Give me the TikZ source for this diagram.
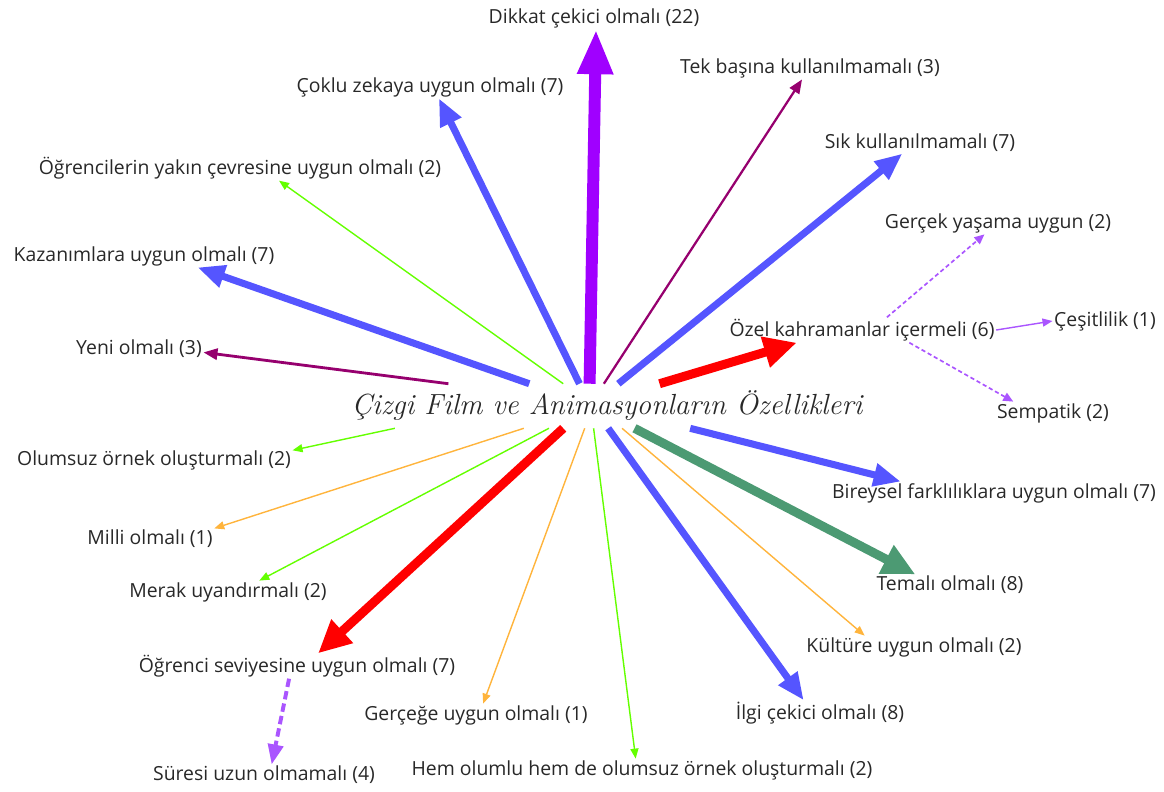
\documentclass[tikz,border=0pt]{standalone}
\usepackage{fontspec}
\setsansfont{Open Sans}
\usetikzlibrary{arrows.meta}
\definecolor{mor}{RGB}{160,0,255}
\definecolor{erik}{RGB}{150,0,110}
\definecolor{mavirenk}{RGB}{85,85,255}
\definecolor{yesil}{RGB}{100,255,0}
\definecolor{turuncu}{RGB}{255,180,60}
\definecolor{zumrut}{RGB}{76,154,115}
\definecolor{lila}{RGB}{170,85,255}
\definecolor{yazi}{RGB}{40,40,40}
\begin{document}
\begin{tikzpicture}[x=0.025cm, y=-0.025cm,
    lbl/.style={font=\sffamily\fontsize{13.8}{15}\selectfont, text=yazi, inner sep=1pt},
    kalin/.style={line width=8.5pt, draw=mor, -{Triangle[length=1.12cm, width=0.83cm]}},
    mavi/.style={line width=5pt, draw=mavirenk, -{Triangle[length=0.68cm, width=0.55cm]}},
    kirmizi/.style={line width=6.4pt, draw=#1, -{Triangle[length=0.82cm, width=0.75cm]}},
    orta/.style={line width=1.6pt, draw=erik, -{Triangle[length=0.35cm, width=0.28cm]}},
    ince/.style={line width=1pt, draw=#1, -{Triangle[length=0.25cm, width=0.2cm]}},
    kesik/.style={line width=1.2pt, draw=lila, dash pattern=on 3pt off 2pt, -{Triangle[length=0.25cm, width=0.22cm]}}]
    \useasboundingbox (0,0) rectangle (1164,791);

    \node[inner sep=0pt, minimum width=12.75cm, minimum height=1.1cm, text=yazi,
        font=\fontsize{20.7}{24}\selectfont\itshape] (cizgi) at (607,406) {Çizgi Film ve Animasyonların Özellikleri};

    \node[lbl] (dikkat) at (594,18) {Dikkat çekici olmalı (22)};
    \node[lbl] (tek) at (810,68) {Tek başına kullanılmamalı (3)};
    \node[lbl] (coklu) at (430,87) {Çoklu zekaya uygun olmalı (7)};
    \node[lbl] (sik) at (920,143) {Sık kullanılmamalı (7)};
    \node[lbl] (yakin) at (240,168) {Öğrencilerin yakın çevresine uygun olmalı (2)};
    \node[lbl] (gercek) at (998,223) {Gerçek yaşama uygun (2)};
    \node[lbl] (kazanim) at (144,256) {Kazanımlara uygun olmalı (7)};
    \node[lbl] (ozel) at (862,330) {Özel kahramanlar içermeli (6)};
    \node[lbl] (cesit) at (1105,321) {Çeşitlilik (1)};
    \node[lbl] (yeni) at (139,349) {Yeni olmalı (3)};
    \node[lbl] (sempatik) at (1053,413) {Sempatik (2)};
    \node[lbl] (olumsuz) at (154,460) {Olumsuz örnek oluşturmalı (2)};
    \node[lbl] (bireysel) at (994,493) {Bireysel farklılıklara uygun olmalı (7)};
    \node[lbl] (milli) at (150,539) {Milli olmalı (1)};
    \node[lbl] (merak) at (228,592) {Merak uyandırmalı (2)};
    \node[lbl] (temali) at (950,585) {Temalı olmalı (8)};
    \node[lbl] (kultur) at (914,647) {Kültüre uygun olmalı (2)};
    \node[lbl] (seviye) at (297,666) {Öğrenci seviyesine uygun olmalı (7)};
    \node[lbl] (gercege) at (476,715) {Gerçeğe uygun olmalı (1)};
    \node[lbl] (ilgi) at (820,713) {İlgi çekici olmalı (8)};
    \node[lbl] (sure) at (264,775) {Süresi uzun olmamalı (4)};
    \node[lbl] (hem) at (642,770) {Hem olumlu hem de olumsuz örnek oluşturmalı (2)};

    \draw[kalin] (cizgi.128) -- (dikkat.280);
    \draw[orta] (cizgi.98) -- (tek.235);
    \draw[mavi] (cizgi.141) -- (coklu.308);
    \draw[mavi] (cizgi.63) -- (sik.211);
    \draw[ince=yesil] (cizgi.153) -- (yakin.342);
    \draw[mavi] (cizgi.164) -- (kazanim.348);
    \draw[orta, line width=2pt] (cizgi.172) -- (yeni.357);
    \draw[kirmizi=red] (cizgi.23) -- (ozel.191);
    \draw[kesik] (ozel.27) -- (gercek.220);
    \draw[ince=lila] (ozel.east) -- (cesit.west);
    \draw[kesik] (ozel.345) -- (sempatik.164);
    \draw[ince=yesil] (cizgi.186) -- (olumsuz.4);
    \draw[mavi] (cizgi.345) -- (bireysel.173);
    \draw[ince=turuncu] (cizgi.195) -- (milli.north east);
    \draw[ince=yesil] (cizgi.201) -- (merak.20);
    \draw[kirmizi=zumrut] (cizgi.321) -- (temali.163);
    \draw[ince=turuncu] (cizgi.304) -- (kultur.167);
    \draw[kirmizi=red] (cizgi.207) -- (seviye.31);
    \draw[kesik, line width=2.8pt, dash pattern=on 6pt off 3pt, -{Triangle[length=0.5cm, width=0.38cm]}] (seviye.238) -- (sure.54);
    \draw[ince=turuncu] (cizgi.225) -- (gercege.58);
    \draw[ince=yesil] (cizgi.239) -- (hem.119);
    \draw[mavi] (cizgi.273) -- (ilgi.142);
\end{tikzpicture}
\end{document}
